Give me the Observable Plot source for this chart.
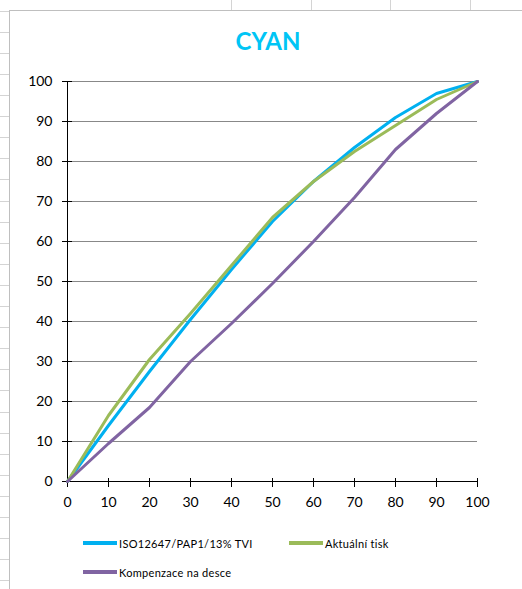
<!DOCTYPE html>
<html>
<head>
<meta charset="utf-8">
<script src="https://cdn.jsdelivr.net/npm/d3@7"></script>
<script src="https://cdn.jsdelivr.net/npm/@observablehq/plot@0.6"></script>
<style>
  html, body { margin: 0; padding: 0; background: #fff; }
  #page { position: relative; width: 522px; height: 589px; overflow: hidden; background: #fff; font-family: Lato, "Open Sans", sans-serif; }
  .hline { position: absolute; left: 0; width: 9px; height: 1px; background: #d4d4d4; }
  .vline { position: absolute; top: 0; width: 1px; height: 10px; background: #d4d4d4; }
  #area { position: absolute; left: 9px; top: 10px; width: 600px; height: 600px; background: #fff; border: 1px solid #bfbfbf; box-sizing: border-box; }
  #title { position: absolute; left: 0; width: 536px; top: 26px; text-align: center; font-weight: bold; font-size: 24px; color: #00c5f5; }
  #chart { position: absolute; left: 0; top: 0; }
  .leg { position: absolute; font-size: 11px; letter-spacing: 0.3px; color: #000; display: flex; align-items: center; white-space: nowrap; }
  .sw { display: inline-block; width: 34px; height: 4px; margin-right: 2px; }
</style>
</head>
<body>
<div id="page">
  <div id="area"></div>
  <div id="title">CYAN</div>
  <div id="chart"></div>
</div>
<script>
const coverage = [0, 10, 20, 30, 40, 50, 60, 70, 80, 90, 100];
const isoValues = [0, 14, 27.5, 40.5, 53, 65, 75, 83.5, 91, 97, 100];
const actualValues = [0, 16.5, 30.5, 42, 54, 66, 75, 82.5, 89, 95.5, 100];
const compValues = [0, 9.5, 18.5, 30, 39.5, 49.5, 60, 71, 83, 92, 100];
const seriesNames = ["ISO12647/PAP1/13% TVI", "Aktuální tisk", "Kompenzace na desce"];
const seriesColors = ["#00b0f0", "#9bbb59", "#8064a2"];
const xTicks = [0, 10, 20, 30, 40, 50, 60, 70, 80, 90, 100];
const yTicks = [0, 10, 20, 30, 40, 50, 60, 70, 80, 90, 100];

// spreadsheet background grid (decoration)
const page = document.getElementById("page");
for (let i = 0; i < 28; i++) {
  const d = document.createElement("div");
  d.className = "hline";
  d.style.top = (10.6 + i * 21.1).toFixed(1) + "px";
  page.insertBefore(d, page.firstChild);
}
[231, 311, 390, 470].forEach(x => {
  const d = document.createElement("div");
  d.className = "vline";
  d.style.left = x + "px";
  page.insertBefore(d, page.firstChild);
});

const valuesBySeries = [isoValues, actualValues, compValues];
const data = [];
valuesBySeries.forEach((vals, s) => {
  vals.forEach((v, i) => data.push({series: seriesNames[s], x: coverage[i], y: v}));
});

const chart = Plot.plot({
  width: 522,
  height: 520,
  marginLeft: 67,
  marginRight: 45,
  marginTop: 81,
  marginBottom: 39,
  style: {fontFamily: "Lato, 'Open Sans', sans-serif", fontSize: "14px", color: "#000", background: "transparent", overflow: "visible"},
  x: {domain: [0, 100], label: null},
  y: {domain: [0, 100], label: null},
  color: {domain: seriesNames, range: seriesColors},
  marks: [
    Plot.gridY(yTicks.filter(d => d > 0), {stroke: "#888", strokeOpacity: 1, strokeWidth: 1}),
    Plot.axisY(yTicks, {tickSize: 10, dx: 5, tickFormat: () => "", label: null, stroke: "#000"}),
    Plot.axisY(yTicks, {tickSize: 0, tickPadding: 15, label: null}),
    Plot.axisX(xTicks, {tickSize: 9, dy: -3, tickFormat: () => "", label: null, stroke: "#000"}),
    Plot.axisX(xTicks, {tickSize: 0, tickPadding: 16, label: null}),
    Plot.ruleX([0], {stroke: "#000", strokeWidth: 1}),
    Plot.ruleY([0], {stroke: "#000", strokeWidth: 1}),
    Plot.line(data, {x: "x", y: "y", z: "series", stroke: "series", strokeWidth: 3, strokeLinejoin: "round", strokeLinecap: "round"})
  ]
});
document.getElementById("chart").appendChild(chart);

// legend
const legendPos = [{left: 83, top: 543}, {left: 289, top: 543}, {left: 83, top: 572}];
seriesNames.forEach((name, i) => {
  const el = document.createElement("div");
  el.className = "leg";
  el.style.left = legendPos[i].left + "px";
  el.style.top = (legendPos[i].top - 7) + "px";
  el.style.height = "14px";
  const sw = document.createElement("span");
  sw.className = "sw";
  sw.style.background = seriesColors[i];
  el.appendChild(sw);
  el.appendChild(document.createTextNode(name));
  page.appendChild(el);
});
</script>
</body>
</html>
